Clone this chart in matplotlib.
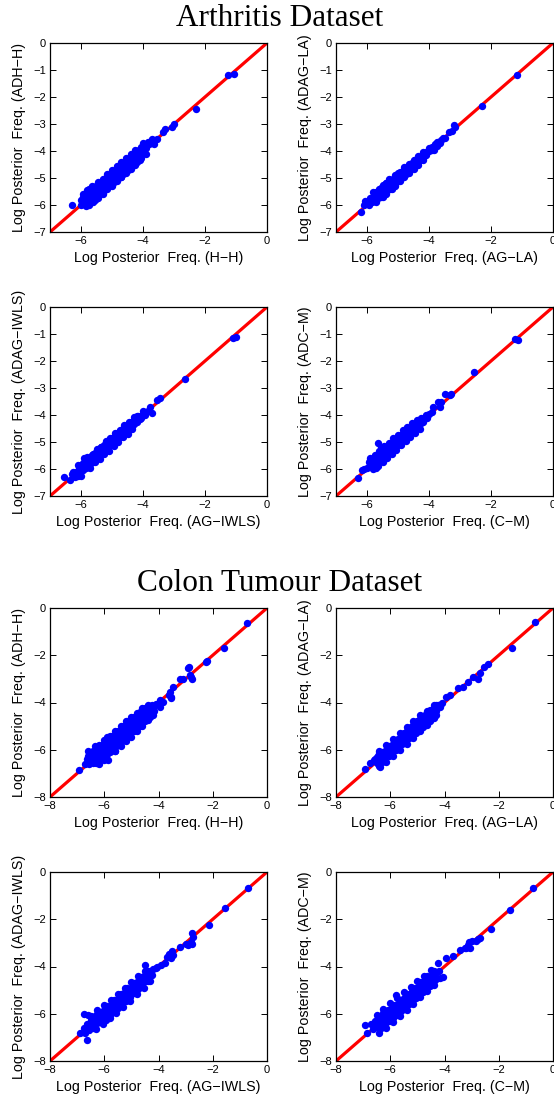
import matplotlib
matplotlib.use('Agg')
import matplotlib.pyplot as plt

# ---------------- data ----------------
arth_ticks_x = [-6, -4, -2, 0]
arth_ticks_y = [0, -1, -2, -3, -4, -5, -6, -7]
colon_ticks = [-8, -6, -4, -2, 0]

arth_hh = [(-6.3, -6.0), (-1.25, -1.2), (-1.05, -1.15), (-2.3, -2.45), (-3.0, -3.0), (-3.05, -3.1),
           (-3.3, -3.2), (-3.35, -3.3), (-3.55, -3.55), (-3.7, -3.55), (-3.75, -3.7), (-3.65, -3.75),
           (-3.85, -3.65),
           (-6.0, -6.0), (-6.0, -5.8), (-5.95, -5.6), (-5.85, -6.05), (-5.85, -5.85), (-5.85, -5.6),
           (-5.8, -5.45), (-5.7, -5.9), (-5.7, -5.7), (-5.7, -5.5), (-5.65, -5.3), (-5.55, -5.8),
           (-5.55, -5.6), (-5.55, -5.4), (-5.5, -5.25), (-5.4, -5.6), (-5.4, -5.4), (-5.4, -5.2),
           (-5.25, -5.45), (-5.25, -5.25), (-5.25, -5.05), (-5.1, -5.3), (-5.1, -5.1), (-5.1, -4.9),
           (-4.95, -5.15), (-4.95, -4.95), (-4.95, -4.75), (-4.8, -5.0), (-4.8, -4.8), (-4.8, -4.6),
           (-4.65, -4.85), (-4.65, -4.65), (-4.65, -4.45), (-4.5, -4.7), (-4.5, -4.5), (-4.5, -4.3),
           (-4.35, -4.55), (-4.35, -4.35), (-4.35, -4.15), (-4.2, -4.4), (-4.2, -4.2), (-4.2, -4.0),
           (-4.05, -4.25), (-4.05, -4.05), (-4.05, -3.85), (-4.0, -3.7), (-3.9, -4.1), (-3.9, -3.9),
           (-3.8, -3.75),
           (-5.93, -5.9), (-5.93, -5.7), (-5.78, -5.75), (-5.78, -5.55), (-5.63, -5.65), (-5.63, -5.45),
           (-5.48, -5.5), (-5.48, -5.35), (-5.33, -5.35), (-5.33, -5.15), (-5.18, -5.2), (-5.18, -5.0),
           (-5.03, -5.05), (-5.03, -4.85), (-4.88, -4.9), (-4.88, -4.7), (-4.73, -4.75), (-4.73, -4.55),
           (-4.58, -4.6), (-4.58, -4.4), (-4.43, -4.45), (-4.43, -4.25), (-4.28, -4.3), (-4.28, -4.1),
           (-4.13, -4.15), (-4.13, -3.95), (-3.98, -4.0), (-3.98, -3.8), (-5.3, -5.55), (-5.0, -5.25),
           (-4.7, -4.95)]
arth_hh_edge = [(-5.75, -5.4), (-5.45, -5.15), (-5.15, -4.85), (-4.85, -4.55), (-4.55, -4.25),
                (-4.25, -3.95), (-5.75, -6.0), (-5.45, -5.75), (-5.15, -5.4), (-4.85, -5.1),
                (-4.55, -4.8), (-4.25, -4.5),
                (-5.6, -5.32), (-5.3, -5.02), (-5.0, -4.72), (-4.7, -4.42), (-4.4, -4.12),
                (-5.6, -5.88), (-5.3, -5.58), (-5.0, -5.28), (-4.7, -4.98), (-4.4, -4.68), (-4.1, -4.35)]

arth_la = [(-6.2, -6.25), (-6.1, -6.0), (-6.05, -5.85), (-5.95, -6.0), (-5.85, -5.9), (-5.8, -5.7),
           (-5.75, -5.85), (-5.65, -5.75), (-5.65, -5.55), (-5.55, -5.65), (-5.55, -5.45), (-5.45, -5.55),
           (-5.45, -5.35), (-5.4, -5.2), (-5.35, -5.45), (-5.3, -5.25), (-5.25, -5.35), (-5.2, -5.1),
           (-5.15, -5.25), (-5.1, -5.0), (-5.05, -5.15), (-5.0, -4.95), (-4.95, -5.05), (-4.9, -4.85),
           (-4.85, -4.95), (-4.8, -4.75), (-4.75, -4.85), (-4.7, -4.65), (-4.65, -4.75), (-4.6, -4.55),
           (-4.55, -4.6), (-4.5, -4.45), (-4.45, -4.5), (-4.4, -4.35), (-4.35, -4.4), (-4.3, -4.25),
           (-4.25, -4.3), (-4.2, -4.15), (-4.15, -4.2), (-4.1, -4.05), (-4.0, -4.0), (-3.95, -3.9),
           (-3.9, -3.85), (-3.85, -3.95), (-3.8, -3.75), (-3.75, -3.8), (-3.7, -3.7), (-3.6, -3.6),
           (-3.5, -3.5), (-3.35, -3.3), (-3.25, -3.25), (-3.2, -3.05), (-3.15, -3.1), (-2.3, -2.35),
           (-1.15, -1.2), (-5.6, -5.4), (-5.3, -5.05), (-5.0, -4.8), (-5.5, -5.7), (-5.2, -5.4),
           (-5.9, -5.75), (-5.8, -5.5), (-5.7, -5.65), (-5.6, -5.55), (-5.5, -5.45), (-5.5, -5.25),
           (-5.4, -5.35), (-5.3, -5.4), (-5.25, -5.15), (-5.15, -5.05), (-5.1, -5.25), (-5.05, -4.95),
           (-4.95, -4.85), (-4.9, -5.0), (-4.85, -4.75), (-4.75, -4.65), (-4.7, -4.8), (-4.6, -4.65),
           (-4.55, -4.45), (-4.45, -4.35), (-4.35, -4.3), (-4.3, -4.35), (-4.2, -4.25), (-4.1, -4.15),
           (-4.0, -3.9), (-3.9, -3.95), (-3.75, -3.65), (-3.65, -3.7), (-3.55, -3.5)]
arth_la_edge = [(-5.7, -5.5), (-5.4, -5.2), (-5.1, -4.9), (-4.8, -4.6), (-4.5, -4.32), (-4.2, -4.03),
                (-5.7, -5.88), (-5.4, -5.58), (-5.1, -5.28), (-4.8, -4.98), (-4.5, -4.65), (-4.2, -4.35),
                (-5.55, -5.37), (-5.25, -5.07), (-4.95, -4.77), (-4.65, -4.47), (-4.35, -4.18),
                (-5.55, -5.72), (-5.25, -5.42), (-4.95, -5.12), (-4.65, -4.82), (-4.35, -4.52)]

arth_iwls = [(-6.55, -6.3), (-1.1, -1.15), (-1.0, -1.1), (-2.65, -2.65), (-3.77, -3.69), (-3.45, -3.38),
             (-3.56, -3.44), (-3.83, -3.87), (-3.72, -3.93),
             (-6.35, -6.4), (-6.3, -6.2), (-6.2, -6.3), (-6.15, -6.1), (-6.05, -6.2), (-6.05, -5.95),
             (-5.95, -6.05), (-5.95, -5.8), (-5.85, -5.95), (-5.85, -5.7), (-5.75, -5.85), (-5.75, -5.6),
             (-5.65, -5.75), (-5.65, -5.5), (-5.55, -5.6), (-5.55, -5.4), (-5.45, -5.5), (-5.45, -5.3),
             (-5.35, -5.4), (-5.35, -5.2), (-5.25, -5.3), (-5.25, -5.1), (-5.15, -5.2), (-5.15, -5.0),
             (-5.05, -5.1), (-5.05, -4.9), (-4.95, -5.0), (-4.95, -4.8), (-4.85, -4.9), (-4.85, -4.7),
             (-4.75, -4.8), (-4.75, -4.6), (-4.65, -4.7), (-4.6, -4.5), (-4.55, -4.6), (-4.5, -4.4),
             (-4.45, -4.5), (-4.4, -4.3), (-4.35, -4.4), (-4.3, -4.2), (-4.2, -4.25), (-4.15, -4.05),
             (-4.05, -4.1), (-4.0, -3.95), (-3.9, -3.9),
             (-6.25, -6.1), (-6.1, -6.25), (-6.0, -5.85), (-5.9, -5.95), (-5.8, -5.65), (-5.7, -5.8),
             (-5.6, -5.45), (-5.5, -5.55), (-5.4, -5.25), (-5.3, -5.35), (-5.2, -5.05), (-5.1, -5.15),
             (-5.0, -4.85), (-4.9, -4.95), (-4.8, -4.65), (-4.7, -4.75), (-4.6, -4.45), (-4.5, -4.55),
             (-4.4, -4.25), (-4.3, -4.35), (-4.2, -4.05), (-4.1, -4.15), (-4.0, -3.85), (-3.95, -4.0),
             (-5.9, -5.6), (-5.6, -5.75), (-5.2, -5.35)]
arth_iwls_edge = [(-6.1, -5.85), (-5.8, -5.55), (-5.5, -5.25), (-5.2, -4.97), (-4.9, -4.67), (-4.6, -4.38),
                  (-4.3, -4.08), (-6.0, -6.27), (-5.7, -5.95), (-5.4, -5.63), (-5.1, -5.33), (-4.8, -5.0),
                  (-4.5, -4.7),
                  (-5.95, -5.77), (-5.65, -5.47), (-5.35, -5.17), (-5.05, -4.87), (-4.75, -4.57),
                  (-4.45, -4.27), (-5.55, -5.73), (-5.25, -5.43), (-4.95, -5.13), (-4.65, -4.83),
                  (-4.35, -4.53)]

arth_cm = [(-6.28, -6.35), (-6.17, -6.04), (-6.1, -6.0), (-1.24, -1.2), (-1.14, -1.22), (-2.56, -2.39),
           (-3.47, -3.22), (-3.33, -3.26), (-3.28, -3.23), (-3.7, -3.5), (-3.63, -3.69), (-3.87, -3.69),
           (-3.6, -3.5),
           (-6.0, -5.95), (-5.95, -5.75), (-5.85, -5.9), (-5.85, -5.7), (-5.75, -5.85), (-5.75, -5.6),
           (-5.65, -5.75), (-5.65, -5.5), (-5.55, -5.65), (-5.55, -5.4), (-5.64, -5.05), (-5.45, -5.55),
           (-5.45, -5.3), (-5.35, -5.4), (-5.35, -5.2), (-5.25, -5.3), (-5.25, -5.1), (-5.15, -5.2),
           (-5.15, -5.0), (-5.05, -5.1), (-5.05, -4.9), (-4.95, -5.0), (-4.95, -4.8), (-4.85, -4.9),
           (-4.85, -4.7), (-4.75, -4.8), (-4.75, -4.6), (-4.65, -4.7), (-4.6, -4.5), (-4.5, -4.55),
           (-4.45, -4.4), (-4.35, -4.4), (-4.3, -4.25), (-4.2, -4.25), (-4.15, -4.1), (-4.05, -4.1),
           (-4.0, -3.95), (-3.9, -3.9), (-5.7, -5.95), (-5.9, -5.85),
           (-5.9, -5.65), (-5.8, -5.75), (-5.7, -5.5), (-5.6, -5.6), (-5.5, -5.3), (-5.4, -5.45),
           (-5.3, -5.15), (-5.2, -5.3), (-5.1, -4.95), (-5.0, -5.1), (-4.9, -4.75), (-4.8, -4.9),
           (-4.7, -4.55), (-4.6, -4.65), (-4.55, -4.4), (-4.4, -4.45), (-4.4, -4.25), (-4.25, -4.3),
           (-4.25, -4.1), (-4.1, -4.0), (-5.55, -5.2), (-5.45, -5.15)]
arth_cm_edge = [(-5.9, -5.6), (-5.6, -5.33), (-5.3, -5.03), (-5.0, -4.73), (-4.7, -4.45), (-4.4, -4.17),
                (-5.8, -6.0), (-5.5, -5.75), (-5.2, -5.45), (-4.9, -5.1), (-4.6, -4.8), (-4.3, -4.5),
                (-5.75, -5.47), (-5.45, -5.17), (-5.15, -4.87), (-4.85, -4.57), (-4.55, -4.3),
                (-5.65, -5.88), (-5.35, -5.6), (-5.05, -5.28), (-4.75, -4.97), (-4.45, -4.65)]

colon_hh = [(-6.93, -6.86), (-0.72, -0.65), (-1.57, -1.68), (-2.26, -2.27), (-2.22, -2.25), (-2.92, -2.55),
            (-2.88, -2.48), (-2.85, -2.84), (-2.77, -3.02), (-2.8, -2.9), (-3.2, -3.0), (-3.1, -3.0),
            (-3.45, -3.33), (-3.57, -3.55), (-3.63, -3.69), (-3.54, -3.76), (-3.55, -3.83), (-3.94, -3.9),
            (-3.82, -3.97), (-3.96, -4.18),
            (-6.7, -6.6), (-6.65, -6.4), (-6.55, -6.6), (-6.55, -6.35), (-6.5, -6.1), (-6.4, -6.55),
            (-6.4, -6.3), (-6.4, -6.05), (-6.25, -6.45), (-6.25, -6.2), (-6.25, -5.95), (-6.1, -6.35),
            (-6.1, -6.1), (-6.1, -5.85), (-5.95, -6.25), (-5.95, -6.0), (-5.95, -5.75), (-5.8, -6.1),
            (-5.8, -5.85), (-5.8, -5.6), (-5.85, -6.44), (-5.65, -5.95), (-5.65, -5.7), (-5.65, -5.45),
            (-5.5, -5.8), (-5.5, -5.55), (-5.5, -5.3), (-5.35, -5.65), (-5.35, -5.4), (-5.35, -5.15),
            (-5.2, -5.45), (-5.2, -5.2), (-5.2, -4.95), (-5.05, -5.3), (-5.05, -5.05), (-5.05, -4.8),
            (-4.9, -5.15), (-4.9, -4.9), (-4.9, -4.65), (-4.75, -5.0), (-4.75, -4.75), (-4.75, -4.5),
            (-4.6, -4.85), (-4.6, -4.6), (-4.6, -4.35), (-4.45, -4.7), (-4.45, -4.45), (-4.45, -4.25),
            (-4.3, -4.5), (-4.3, -4.3), (-4.25, -4.1), (-4.15, -4.35), (-4.1, -4.05),
            (-6.6, -6.5), (-6.6, -6.25), (-6.6, -6.05), (-6.45, -6.45), (-6.45, -6.2), (-6.3, -6.35),
            (-6.3, -6.1), (-6.15, -6.25), (-6.15, -6.0), (-6.0, -6.1), (-6.0, -5.85), (-5.85, -6.0),
            (-5.85, -5.7), (-5.7, -5.85), (-5.7, -5.6), (-5.55, -5.7), (-5.55, -5.45), (-5.4, -5.55),
            (-5.4, -5.3), (-5.25, -5.4), (-5.25, -5.1), (-5.1, -5.2), (-5.1, -4.95), (-4.95, -5.05),
            (-4.95, -4.8), (-4.8, -4.9), (-4.8, -4.65), (-4.65, -4.75), (-4.65, -4.5), (-4.5, -4.6),
            (-4.5, -4.35), (-4.35, -4.4), (-4.2, -4.25), (-6.3, -6.55), (-6.0, -6.4), (-5.6, -6.05)]
colon_hh_edge = [(-6.2, -5.8), (-6.0, -5.6), (-5.8, -5.4), (-5.6, -5.2), (-5.4, -5.0), (-5.2, -4.8),
                 (-5.0, -4.6), (-4.8, -4.45), (-4.6, -4.25), (-4.4, -4.1), (-6.35, -5.85), (-5.9, -5.45),
                 (-6.3, -6.0), (-5.9, -5.6), (-5.5, -5.2), (-5.1, -4.8), (-4.7, -4.4),
                 (-6.2, -6.6), (-6.0, -6.45), (-5.6, -6.05), (-5.4, -5.85), (-5.2, -5.65), (-5.0, -5.45),
                 (-4.8, -5.2), (-4.6, -5.0), (-4.4, -4.75), (-4.2, -4.55),
                 (-6.1, -5.8), (-5.7, -5.4), (-5.3, -5.0), (-4.9, -4.6), (-4.5, -4.25),
                 (-6.1, -6.4), (-5.9, -6.2), (-5.7, -6.0), (-5.5, -5.8), (-5.3, -5.6), (-5.1, -5.4),
                 (-4.9, -5.2), (-4.7, -5.0), (-4.5, -4.8), (-4.3, -4.6)]

colon_la = [(-6.93, -6.83), (-6.75, -6.58), (-6.38, -6.75), (-0.65, -0.6), (-1.5, -1.7), (-2.4, -2.35),
            (-2.55, -2.5), (-2.7, -2.75), (-2.75, -3.0), (-2.95, -2.9), (-3.93, -3.76), (-3.81, -3.69),
            (-3.5, -3.4), (-3.32, -3.33), (-3.14, -3.12),
            (-6.6, -6.45), (-6.5, -6.55), (-6.5, -6.3), (-6.4, -6.4), (-6.4, -6.15), (-6.3, -6.45),
            (-6.3, -6.25), (-6.2, -6.3), (-6.2, -6.05), (-6.1, -6.2), (-6.1, -5.95), (-6.0, -6.1),
            (-6.0, -5.85), (-5.9, -6.0), (-5.9, -5.75), (-5.8, -5.9), (-5.8, -5.65), (-5.7, -5.8),
            (-5.7, -5.55), (-5.6, -5.7), (-5.6, -5.45), (-5.5, -5.55), (-5.5, -5.3), (-5.4, -5.45),
            (-5.4, -5.2), (-5.3, -5.35), (-5.3, -5.1), (-5.2, -5.25), (-5.2, -5.0), (-5.1, -5.15),
            (-5.1, -4.9), (-5.0, -5.05), (-5.0, -4.8), (-4.9, -4.95), (-4.9, -4.7), (-4.8, -4.85),
            (-4.8, -4.6), (-4.7, -4.75), (-4.7, -4.5), (-4.6, -4.6), (-4.55, -4.4), (-4.45, -4.5),
            (-4.4, -4.25), (-4.3, -4.35), (-4.25, -4.1), (-4.15, -4.2), (-4.1, -4.0),
            (-6.55, -6.4), (-6.45, -6.25), (-6.35, -6.3), (-6.25, -6.15), (-6.15, -6.1), (-6.05, -5.95),
            (-5.95, -5.9), (-5.85, -5.75), (-5.75, -5.7), (-5.65, -5.55), (-5.55, -5.45), (-5.45, -5.35),
            (-5.35, -5.25), (-5.25, -5.15), (-5.15, -5.05), (-5.05, -4.95), (-4.95, -4.85), (-4.85, -4.75),
            (-4.75, -4.65), (-4.65, -4.55), (-4.5, -4.45), (-4.35, -4.3), (-4.2, -4.1), (-6.45, -6.5),
            (-6.25, -6.4), (-6.05, -6.2), (-5.85, -6.0), (-5.65, -5.8)]
colon_la_edge = [(-6.4, -6.05), (-6.15, -5.8), (-5.9, -5.55), (-5.65, -5.3), (-5.4, -5.05), (-5.15, -4.8),
                 (-4.9, -4.55), (-4.65, -4.35), (-4.4, -4.1), (-6.4, -6.7), (-6.15, -6.5), (-5.9, -6.25),
                 (-5.65, -6.0), (-5.4, -5.75), (-5.15, -5.5), (-4.9, -5.2), (-4.65, -4.95), (-4.4, -4.65),
                 (-6.3, -6.08), (-6.05, -5.83), (-5.8, -5.58), (-5.55, -5.33), (-5.3, -5.08), (-5.05, -4.83),
                 (-4.8, -4.58), (-4.55, -4.33), (-4.3, -4.1), (-6.3, -6.52), (-6.05, -6.27), (-5.8, -6.02),
                 (-5.55, -5.77), (-5.3, -5.52), (-5.05, -5.27), (-4.8, -5.02), (-4.55, -4.77), (-4.3, -4.52)]

colon_iwls = [(-0.71, -0.69), (-1.54, -1.51), (-2.15, -2.25), (-2.75, -2.6), (-2.72, -2.75), (-2.8, -2.95),
              (-2.9, -3.1), (-2.75, -3.05), (-3.2, -3.16), (-3.0, -3.06), (-3.5, -3.35), (-3.6, -3.45),
              (-3.7, -3.6), (-3.55, -3.64), (-3.46, -3.5), (-4.49, -3.94), (-4.05, -4.03), (-3.9, -3.95),
              (-3.75, -3.86), (-6.62, -7.09), (-6.89, -6.82), (-6.75, -6.0), (-6.6, -6.05),
              (-6.75, -6.6), (-6.7, -6.8), (-6.6, -6.5), (-6.55, -6.7), (-6.5, -6.25), (-6.45, -6.5),
              (-6.4, -6.6), (-6.35, -6.3), (-6.3, -6.05), (-6.25, -6.4), (-6.2, -6.2), (-6.15, -5.95),
              (-6.1, -6.35), (-6.05, -6.1), (-6.0, -5.85), (-5.95, -6.25), (-5.9, -5.95), (-5.85, -5.7),
              (-5.8, -6.05), (-5.75, -5.8), (-5.7, -5.55), (-5.65, -5.9), (-5.6, -5.65), (-5.55, -5.4),
              (-5.5, -5.75), (-5.45, -5.5), (-5.4, -5.25), (-5.35, -5.6), (-5.3, -5.35), (-5.25, -5.1),
              (-5.2, -5.45), (-5.15, -5.2), (-5.1, -4.95), (-5.05, -5.3), (-5.0, -5.05), (-4.95, -4.8),
              (-4.9, -5.1), (-4.85, -4.9), (-4.8, -4.65), (-4.75, -4.95), (-4.7, -4.75), (-4.65, -4.5),
              (-4.6, -4.8), (-4.55, -4.55), (-4.5, -4.35), (-4.45, -4.6), (-4.4, -4.4), (-4.3, -4.2),
              (-4.25, -4.35), (-4.2, -4.1), (-4.1, -4.05),
              (-6.65, -6.45), (-6.5, -6.45), (-6.4, -6.2), (-6.3, -6.3), (-6.2, -6.0), (-6.1, -6.15),
              (-6.0, -5.95), (-5.9, -5.8), (-5.8, -5.85), (-5.7, -5.7), (-5.6, -5.5), (-5.5, -5.55),
              (-5.4, -5.4), (-5.3, -5.2), (-5.2, -5.25), (-5.1, -5.1), (-5.0, -4.9), (-4.9, -4.95),
              (-4.8, -4.8), (-4.7, -4.6), (-4.6, -4.65), (-4.5, -4.5), (-4.4, -4.3), (-4.3, -4.35)]
colon_iwls_edge = [(-6.5, -6.1), (-6.25, -5.85), (-6.0, -5.65), (-5.75, -5.4), (-5.5, -5.15), (-5.25, -4.9),
                   (-5.0, -4.65), (-4.75, -4.4), (-4.5, -4.2), (-6.3, -6.65), (-6.05, -6.45), (-5.8, -6.2),
                   (-5.55, -5.95), (-5.3, -5.7), (-5.05, -5.45), (-4.8, -5.15), (-4.55, -4.9), (-4.3, -4.6),
                   (-6.4, -6.18), (-6.15, -5.93), (-5.9, -5.68), (-5.65, -5.43), (-5.4, -5.18),
                   (-5.15, -4.93), (-4.9, -4.68), (-4.65, -4.43), (-4.4, -4.2), (-6.15, -6.37),
                   (-5.9, -6.12), (-5.65, -5.87), (-5.4, -5.62), (-5.15, -5.37), (-4.9, -5.12),
                   (-4.65, -4.87), (-4.4, -4.62)]

colon_cm = [(-0.75, -0.69), (-1.6, -1.61), (-2.28, -2.42), (-2.7, -2.81), (-2.75, -2.85), (-2.85, -2.9),
            (-3.0, -2.9), (-3.1, -2.95), (-3.15, -3.1), (-3.05, -3.2), (-3.44, -3.3), (-3.26, -3.23),
            (-3.93, -3.66), (-3.69, -3.56), (-4.24, -3.87), (-4.18, -4.5), (-4.06, -4.44), (-5.77, -5.21),
            (-6.93, -6.48), (-6.85, -6.81), (-3.2, -3.2),
            (-6.7, -6.45), (-6.65, -6.65), (-6.55, -6.3), (-6.5, -6.55), (-6.45, -6.1), (-6.4, -6.4),
            (-6.35, -6.6), (-6.3, -6.2), (-6.25, -5.95), (-6.2, -6.45), (-6.15, -6.1), (-6.1, -5.85),
            (-6.05, -6.3), (-6.0, -6.0), (-5.95, -5.75), (-5.9, -6.2), (-5.85, -5.9), (-5.8, -5.65),
            (-5.75, -6.05), (-5.7, -5.75), (-5.65, -5.5), (-5.6, -5.9), (-5.55, -5.6), (-5.5, -5.35),
            (-5.45, -5.75), (-5.4, -5.45), (-5.35, -5.2), (-5.3, -5.55), (-5.25, -5.3), (-5.2, -5.05),
            (-5.15, -5.4), (-5.1, -5.15), (-5.05, -4.9), (-5.0, -5.2), (-4.95, -5.0), (-4.9, -4.75),
            (-4.85, -5.05), (-4.8, -4.85), (-4.75, -4.6), (-4.7, -4.9), (-4.65, -4.7), (-4.6, -4.45),
            (-4.55, -4.75), (-4.5, -4.55), (-4.45, -4.35), (-4.4, -4.6), (-4.35, -4.4), (-4.3, -4.25),
            (-4.2, -4.2),
            (-6.6, -6.45), (-6.55, -6.55), (-6.45, -6.3), (-6.35, -6.4), (-6.3, -6.1), (-6.2, -6.25),
            (-6.15, -5.95), (-6.05, -6.1), (-5.95, -5.95), (-5.85, -6.05), (-5.8, -5.8), (-5.7, -5.95),
            (-5.65, -5.65), (-5.55, -5.8), (-5.5, -5.5), (-5.4, -5.6), (-5.35, -5.35), (-5.25, -5.45),
            (-5.2, -5.2), (-5.1, -5.3), (-5.05, -5.05), (-4.95, -5.15), (-4.9, -4.9), (-4.8, -4.7),
            (-4.75, -4.8), (-4.6, -4.6), (-4.5, -4.4), (-4.4, -4.45)]
colon_cm_edge = [(-6.5, -6.05), (-6.25, -5.8), (-6.0, -5.55), (-5.75, -5.35), (-5.5, -5.1), (-5.25, -4.85),
                 (-5.0, -4.6), (-4.75, -4.4), (-4.5, -4.15), (-6.4, -6.8), (-6.15, -6.6), (-5.9, -6.35),
                 (-5.65, -6.1), (-5.4, -5.85), (-5.15, -5.6), (-4.9, -5.3), (-4.65, -5.05), (-4.4, -4.8),
                 (-6.4, -6.15), (-6.15, -5.9), (-5.9, -5.65), (-5.65, -5.4), (-5.4, -5.15), (-5.15, -4.9),
                 (-4.9, -4.65), (-4.65, -4.4), (-4.4, -4.2), (-6.3, -6.57), (-6.05, -6.32), (-5.8, -6.07),
                 (-5.55, -5.82), (-5.3, -5.57), (-5.05, -5.32), (-4.8, -5.07), (-4.55, -4.82), (-4.3, -4.55)]

arth_xlabels = ["(H\u2212H)", "(AG\u2212LA)", "(AG\u2212IWLS)", "(C\u2212M)"]
arth_ylabels = ["(ADH\u2212H)", "(ADAG\u2212LA)", "(ADAG\u2212IWLS)", "(ADC\u2212M)"]

# ---------------- layout ----------------
W, H = 554, 1102
fig = plt.figure(figsize=(W / 100, H / 100), dpi=100)

col_left = [50, 336]
row_top = [43, 307, 608, 872]
ax_w, ax_h = 217, 189

SANS = ['Liberation Sans', 'DejaVu Sans']
SERIF = ['Liberation Serif', 'DejaVu Serif']


def make_axes(row, col):
    l = col_left[col] / W
    b = 1 - (row_top[row] + ax_h) / H
    return fig.add_axes([l, b, ax_w / W, ax_h / H])


def draw(ax, pts, lim, xt, yt, xl, yl):
    ax.plot([lim, 0], [lim, 0], color='#ff0000', lw=2.3, zorder=2, solid_capstyle='butt')
    xs = [p[0] for p in pts]
    ys = [p[1] for p in pts]
    ax.plot(xs, ys, 'o', color='#0000ff', ms=5.3, mew=0, zorder=3, clip_on=False)
    ax.set_xlim(lim, 0)
    ax.set_ylim(lim, 0)
    ax.set_xticks(xt)
    ax.set_yticks(yt)
    ax.tick_params(direction='in', top=True, right=True, length=4, width=0.7,
                   labelsize=8, pad=3)
    for lab in ax.get_xticklabels() + ax.get_yticklabels():
        lab.set_family(SANS)
    for s in ax.spines.values():
        s.set_linewidth(0.9)
    ax.set_xlabel("Log Posterior  Freq. " + xl, fontsize=10.3, family=SANS, labelpad=3.5)
    ax.set_ylabel("Log Posterior  Freq. " + yl, fontsize=10.3, family=SANS, labelpad=5)


arth_data = [arth_hh + arth_hh_edge, arth_la + arth_la_edge,
             arth_iwls + arth_iwls_edge, arth_cm + arth_cm_edge]
colon_data = [colon_hh + colon_hh_edge, colon_la + colon_la_edge,
              colon_iwls + colon_iwls_edge, colon_cm + colon_cm_edge]

for i in range(4):
    r, c = divmod(i, 2)
    ax = make_axes(r, c)
    draw(ax, arth_data[i], -7, arth_ticks_x, arth_ticks_y, arth_xlabels[i], arth_ylabels[i])
    ax = make_axes(r + 2, c)
    draw(ax, colon_data[i], -8, colon_ticks, colon_ticks, arth_xlabels[i], arth_ylabels[i])

fig.text(280 / W, 1 - 26 / H, "Arthritis Dataset", ha='center', va='baseline',
         fontsize=22.5, family=SERIF)
fig.text(280 / W, 1 - 591 / H, "Colon Tumour Dataset", ha='center', va='baseline',
         fontsize=22.5, family=SERIF)

fig.savefig('out.png', dpi=100)
